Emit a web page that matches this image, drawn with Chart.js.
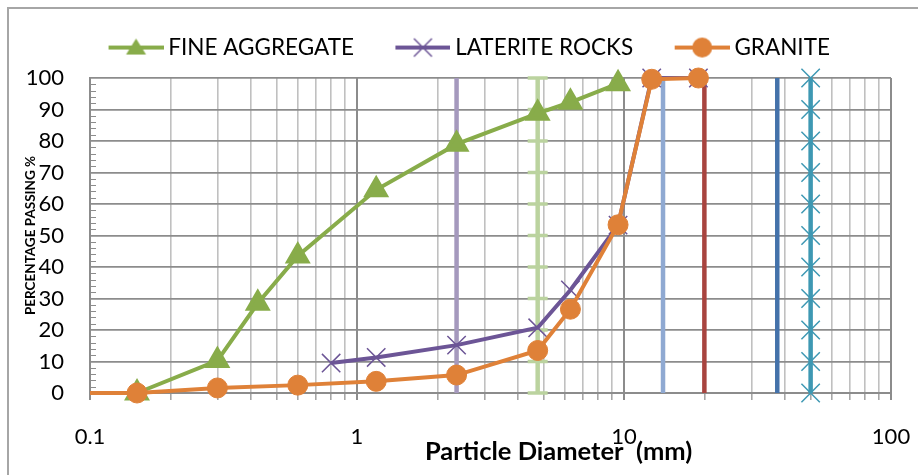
<!DOCTYPE html>
<html>
<head>
<meta charset="utf-8">
<script src="https://cdn.jsdelivr.net/npm/chart.js@4.4.1/dist/chart.umd.min.js"></script>
<style>
  html, body { margin: 0; padding: 0; background: #fff; }
  #wrap { position: relative; width: 918px; height: 475px; overflow: hidden; }
  #frame { position: absolute; left: 7px; top: 7px; width: 960px; height: 520px;
           border-left: 2px solid #a6a6a6; border-top: 2px solid #a6a6a6; }
  canvas { position: absolute; left: 0; top: 0; }
</style>
</head>
<body>
<div id="wrap">
  <div id="frame"></div>
  <canvas id="myChart" width="918" height="475"></canvas>
</div>
<script>
// sieve sizes (mm) and percentage passing
const fineSizes = [0.15, 0.3, 0.425, 0.6, 1.18, 2.36, 4.75, 6.3, 9.5];
const finePassing = [0, 10.3, 28.5, 43.5, 64.5, 79, 88.8, 92.3, 98.2];

const lateriteSizes = [0.8, 1.18, 2.36, 4.75, 6.3, 9.5, 12.7, 19];
const lateritePassing = [9.5, 11.3, 15.2, 20.7, 32.7, 53.3, 100, 100];

const graniteSizes = [0.1, 0.15, 0.3, 0.6, 1.18, 2.36, 4.75, 6.3, 9.5, 12.7, 19];
const granitePassing = [0, 0, 1.6, 2.5, 3.7, 5.7, 13.5, 26.6, 53.4, 99.6, 100];

// vertical reference lines
const limitSizes = [2.36, 4.75, 14, 20, 37.5, 50];
const limitLevels = [0, 10, 20, 30, 40, 50, 60, 70, 80, 90, 100];

const seriesNames = ["FINE AGGREGATE", "LATERITE ROCKS", "GRANITE"];
const xTickLabels = ["0.1", "1", "10", "100"];

const FONT = "Lato, 'Liberation Sans', sans-serif";
const green = "#88AC4A", purple = "#6C5596", orange = "#DF8138";
const limitColors = ["#A599BD", "#BBD39F", "#8FA9D2", "#A8443F", "#4472AA", "#3E98B3"];
const limitMarkers = [false, "line", false, false, false, "crossRot"];

function pts(xs, ys) {
  return xs.map((x, i) => ({ x: x, y: ys[i] }));
}

// legend symbol: line with a marker, sticking out right of the legend box
function legendMarker(color, style) {
  const c = document.createElement("canvas");
  c.width = 93; c.height = 24;
  const g = c.getContext("2d");
  g.strokeStyle = color; g.fillStyle = color; g.lineWidth = 4;
  g.beginPath(); g.moveTo(38, 12); g.lineTo(93, 12); g.stroke();
  const cx = 65.5, cy = 12;
  g.beginPath();
  if (style === "triangle") {
    g.moveTo(cx, cy - 9); g.lineTo(cx + 10, cy + 7); g.lineTo(cx - 10, cy + 7); g.closePath(); g.fill();
  } else if (style === "circle") {
    g.arc(cx, cy, 10, 0, Math.PI * 2); g.fill();
  } else {
    g.lineWidth = 1.5;
    g.moveTo(cx - 9, cy - 9); g.lineTo(cx + 9, cy + 9);
    g.moveTo(cx + 9, cy - 9); g.lineTo(cx - 9, cy + 9); g.stroke();
  }
  return c;
}

const datasets = [
  {
    label: seriesNames[0], data: pts(fineSizes, finePassing),
    borderColor: green, backgroundColor: green, borderWidth: 4,
    pointStyle: "triangle", pointRadius: 11, pointBackgroundColor: green, pointBorderColor: green,
    order: 3, clip: false, showLine: true
  },
  {
    label: seriesNames[1], data: pts(lateriteSizes, lateritePassing),
    borderColor: purple, backgroundColor: purple, borderWidth: 4,
    pointStyle: "crossRot", pointRadius: 13, pointBorderWidth: 1.5, pointBorderColor: purple,
    order: 2, clip: false, showLine: true
  },
  {
    label: seriesNames[2], data: pts(graniteSizes, granitePassing),
    borderColor: orange, backgroundColor: orange, borderWidth: 4,
    pointStyle: "circle", pointRadius: ctx => ctx.dataIndex === 0 ? 0 : 10,
    pointBackgroundColor: orange, pointBorderColor: orange, pointBorderWidth: 1,
    order: 1, clip: false, showLine: true
  }
];

limitSizes.forEach((s, i) => {
  const m = limitMarkers[i];
  datasets.push({
    label: "limit " + s, data: limitLevels.map(v => ({ x: s, y: v })),
    borderColor: limitColors[i], backgroundColor: limitColors[i], borderWidth: 4.5,
    pointStyle: m || "circle", pointRadius: m === "line" ? 10 : (m ? 13 : 0),
    pointBorderWidth: m === "line" ? 3.5 : 1.5, pointBorderColor: limitColors[i],
    order: 10 + i, clip: false, showLine: true
  });
});

// x gridlines at 1..9 of each decade
const xGrid = [];
[0.1, 1, 10].forEach(d => {
  for (let k = 1; k < 10; k++) xGrid.push(Number((k * d).toPrecision(3)));
});
xGrid.push(100);
const isDecade = v => Math.abs(Math.log10(v) - Math.round(Math.log10(v))) < 1e-9;

const extras = {
  id: "extras",
  afterDraw(chart) {
    const ctx = chart.ctx, y = chart.scales.y, a = chart.chartArea;
    ctx.save();
    // minor ticks on the value axis
    ctx.strokeStyle = "#8c8c8c"; ctx.lineWidth = 1;
    for (let v = 2; v < 100; v += 2) {
      if (v % 10 === 0) continue;
      const py = Math.round(y.getPixelForValue(v)) + 0.5;
      ctx.beginPath(); ctx.moveTo(a.left, py); ctx.lineTo(a.left + 6, py); ctx.stroke();
    }
    // x axis title (sits right of centre in the original)
    ctx.fillStyle = "#000";
    ctx.font = "bold 25.5px " + FONT;
    ctx.textAlign = "center"; ctx.textBaseline = "middle";
    ctx.fillText("Particle Diameter  (mm)", a.left + (a.right - a.left) * 0.585, 452);
    ctx.restore();
  }
};

new Chart(document.getElementById("myChart").getContext("2d"), {
  type: "scatter",
  data: { datasets: datasets },
  plugins: [extras],
  options: {
    responsive: false,
    animation: false,
    layout: { padding: { left: 16, right: 27, top: 15, bottom: 0 } },
    plugins: {
      tooltip: { enabled: false },
      // empty spacer between legend and plot
      subtitle: { display: true, text: "", weight: 500, font: { size: 1 }, padding: { top: 0, bottom: 8 } },
      legend: {
        position: "top",
        align: "center",
        labels: {
          usePointStyle: true,
          pointStyleWidth: 80,
          padding: 10,
          color: "#000",
          font: { family: FONT, size: 22.5 },
          generateLabels(chart) {
            const styles = ["triangle", "cross", "circle"];
            const cols = [green, purple, orange];
            return seriesNames.map((n, i) => ({
              text: n, datasetIndex: i, fontColor: "#000",
              fillStyle: cols[i], strokeStyle: cols[i], lineWidth: 0,
              pointStyle: legendMarker(cols[i], styles[i]), hidden: false
            }));
          }
        }
      }
    },
    scales: {
      x: {
        type: "logarithmic",
        min: 0.1, max: 100,
        afterBuildTicks(scale) {
          scale.ticks = xGrid.map(v => ({ value: v }));
        },
        afterFit(scale) { scale.height = 82; scale.paddingLeft = 0; scale.paddingRight = 0; },
        ticks: {
          autoSkip: false, maxRotation: 0, padding: 24, color: "#000",
          font: { family: FONT, size: 22 },
          callback(v) {
            const i = [0.1, 1, 10, 100].findIndex(t => Math.abs(t - v) < 1e-9);
            return i >= 0 ? xTickLabels[i] : "";
          }
        },
        grid: {
          color: ctx => isDecade(ctx.tick.value) ? "#8c8c8c" : "#c0c0c0",
          lineWidth: ctx => isDecade(ctx.tick.value) ? 2 : 1.6,
          tickLength: 7,
          tickColor: ctx => isDecade(ctx.tick.value) ? "#8c8c8c" : "#a6a6a6"
        },
        border: { color: "#8c8c8c", width: 2 }
      },
      y: {
        min: 0, max: 100,
        afterFit(scale) { scale.width = 74; scale.paddingTop = 78; },
        ticks: { stepSize: 10, padding: 26, color: "#000", font: { family: FONT, size: 22 } },
        grid: { color: "#8c8c8c", lineWidth: 1.8, drawTicks: false },
        border: { color: "#8c8c8c", width: 2 },
        title: {
          display: true, text: "PERCENTAGE PASSING %", color: "#000",
          font: { family: FONT, size: 13.5, weight: "bold" },
          padding: { top: 7, bottom: 0 }
        }
      }
    }
  }
});
</script>
</body>
</html>
